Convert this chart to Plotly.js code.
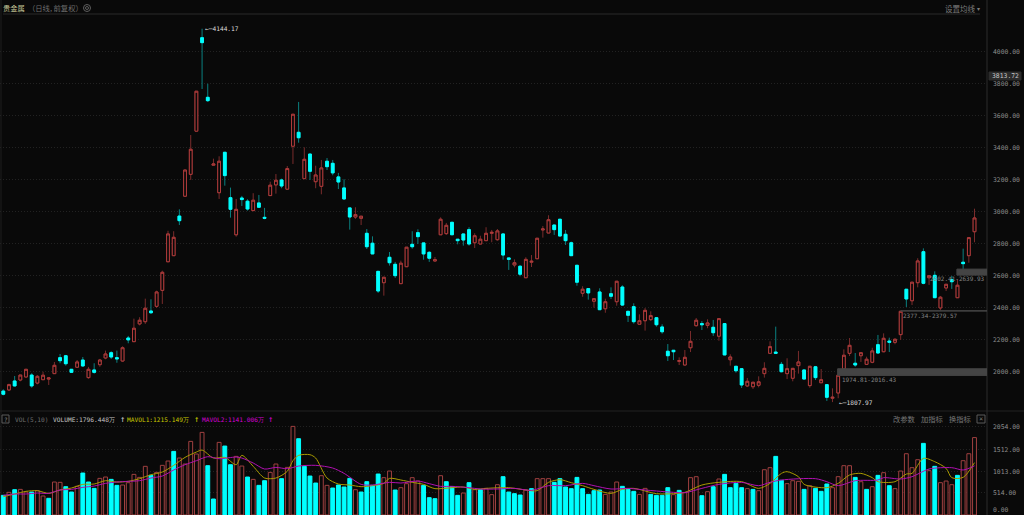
<!DOCTYPE html>
<html><head><meta charset="utf-8">
<script src="https://cdn.plot.ly/plotly-3.0.1.min.js"></script>
<style>html,body{margin:0;padding:0;background:#090909;overflow:hidden}#c{width:1024px;height:515px}</style>
</head><body><div id="c"></div>
<script>
const opens=[1877,1884,1940,1946,1965,1977,1927,1948,1952,1986,2086,2098,2013,2026,2071,1961,2009,2042,2084,2117,2086,2065,2209,2186,2297,2311,2378,2407,2507,2686,2724,2972,3096,3233,3503,4088,3715,3290,3118,3371,3087,2855,3085,3065,3006,3054,2964,3100,3167,3198,3140,3409,3496,3206,3360,3187,3158,3315,3302,3217,3148,3023,2966,2958,2864,2802,2626,2555,2714,2670,2549,2655,2795,2868,2804,2745,2691,2855,2862,2933,2827,2860,2887,2805,2797,2818,2864,2824,2860,2710,2666,2658,2586,2683,2705,2885,2866,2916,2952,2858,2805,2664,2489,2518,2439,2497,2392,2486,2436,2528,2376,2405,2295,2317,2324,2336,2278,2126,2132,2063,2040,2148,2286,2299,2288,2276,2220,2299,2073,2032,2017,1909,1904,1913,1986,2113,2121,2044,1986,1957,2036,2009,1911,2029,1929,1917,1832,1865,2015,2113,2051,2098,2044,2057,2167,2123,2190,2182,2230,2514,2442,2555,2749,2586,2601,2397,2522,2574,2461,2683,2724,2874];
const closes=[1857,1917,1909,1977,2013,1909,1969,1976,1959,2038,2067,2048,1994,2059,2034,2013,1994,2071,2109,2090,2078,2148,2197,2270,2320,2395,2367,2497,2620,2860,2839,2943,3260,3390,3753,4057,3694,3298,3315,3225,3014,3014,3075,3016,3071,3027,2958,3165,3196,3160,3269,3609,3462,3327,3252,3229,3273,3281,3242,3185,3079,2966,2981,2971,2780,2735,2503,2589,2680,2599,2677,2777,2780,2843,2735,2708,2699,2952,2914,2855,2818,2822,2797,2849,2827,2864,2870,2879,2728,2701,2680,2608,2701,2689,2833,2891,2949,2887,2847,2818,2724,2558,2514,2491,2455,2386,2436,2470,2564,2415,2351,2311,2317,2382,2349,2292,2248,2098,2123,2067,2088,2188,2320,2292,2303,2242,2330,2103,2090,2004,1915,1938,1932,1935,2019,2155,2113,1998,2017,2019,2059,1952,2032,1961,1948,1838,1838,1976,2101,2163,2040,2117,2076,2128,2115,2207,2182,2201,2376,2453,2558,2691,2551,2599,2461,2464,2545,2561,2539,2674,2837,2960];
const highs=[1888,1923,1971,1977,2013,1988,1977,1998,1959,2059,2109,2103,2015,2071,2090,2028,2051,2078,2130,2126,2130,2157,2222,2330,2339,2455,2451,2505,2630,2880,2877,3014,3260,3479,3753,4144.17,3800,3331,3346,3371,3150,3079,3098,3077,3115,3104,3023,3187,3235,3206,3285,3609,3686,3402,3360,3287,3323,3335,3323,3242,3202,3023,3027,2971,2891,2845,2626,2589,2747,2685,2693,2777,2877,2889,2804,2752,2716,2964,2929,2933,2827,2860,2902,2864,2849,2902,2885,2891,2864,2710,2701,2664,2714,2728,2833,2910,2977,2916,2952,2885,2812,2664,2533,2518,2455,2520,2455,2526,2564,2539,2376,2426,2357,2397,2376,2336,2295,2171,2132,2088,2134,2253,2334,2315,2326,2322,2330,2299,2107,2032,2021,1959,1932,1969,2057,2188,2280,2059,2082,2019,2128,2009,2032,2034,2015,1917,1894,1976,2138,2209,2115,2117,2092,2148,2228,2238,2211,2207,2376,2514,2558,2708,2770,2599,2626,2472,2545,2597,2576,2768,2837,3018];
const lows=[1850,1877,1906,1938,1962,1898,1919,1948,1915,1986,2051,2036,1990,2021,2029,1954,1986,2029,2076,2078,2054,2061,2176,2186,2288,2297,2359,2397,2422,2686,2724,2916,3091,3198,3503,3767,3686,3290,3079,3162,2962,2843,3035,3006,3006,3027,2952,3100,3112,3146,3140,3298,3431,3206,3198,3146,3108,3260,3227,3141,3073,2887,2954,2916,2766,2735,2491,2474,2662,2585,2549,2655,2768,2797,2699,2685,2686,2855,2854,2855,2795,2787,2787,2772,2797,2818,2808,2818,2699,2635,2651,2595,2586,2653,2705,2837,2866,2854,2847,2791,2724,2536,2467,2449,2399,2386,2367,2453,2411,2409,2309,2299,2295,2255,2315,2280,2236,2065,2071,2040,2040,2121,2280,2259,2270,2222,2192,2103,2036,1992,1896,1902,1890,1900,1961,2113,2113,1994,1952,1938,1986,1952,1898,1946,1929,1815,1807.97,1832,2015,2096,2029,2059,2040,2051,2111,2120,2121,2170,2197,2403,2415,2526,2545,2541,2461,2380,2503,2516,2461,2641,2680,2808];
const volumes=[456,526,587,595,533,533,564,441,387,765,758,657,533,665,974,765,618,850,881,827,688,696,750,943,873,1129,920,989,1152,1252,1476,1322,1183,1708,1415,1917,1144,371,1685,1600,1167,1360,1136,881,827,688,796,989,1183,843,1105,2056,1770,1129,904,742,912,688,626,696,649,850,587,533,773,688,951,866,1020,580,634,727,866,788,688,402,379,912,773,657,456,510,750,587,587,618,472,703,889,533,495,464,580,611,843,843,843,758,843,649,611,873,611,479,564,580,479,533,765,665,595,549,479,618,479,456,456,634,472,572,518,866,889,448,541,657,835,943,634,734,634,611,595,564,1051,1098,1360,804,727,796,781,595,680,618,549,719,634,889,1144,1144,873,773,595,657,920,982,680,611,1020,1422,1098,1283,1662,1028,1129,750,788,703,920,1260,1422,1796.448];
// 1 = hollow red bar, 0 = solid cyan bar
const volRed=[0,1,0,1,1,0,1,1,0,1,1,0,0,1,0,0,0,1,1,0,0,1,1,1,1,1,0,1,1,1,0,1,1,1,1,1,0,0,1,0,0,1,1,0,1,0,0,1,1,0,1,1,0,0,0,0,1,1,0,0,0,0,1,0,0,0,0,1,1,0,1,1,1,1,0,0,0,1,0,0,0,1,0,1,0,1,1,1,0,0,0,0,1,0,1,1,1,0,0,0,0,0,0,0,0,0,1,1,1,0,0,0,1,1,0,0,0,0,1,0,1,1,1,0,1,0,1,0,0,0,0,1,0,1,1,1,0,0,1,1,1,0,1,0,0,0,1,1,1,1,0,1,0,1,0,1,0,1,1,1,1,1,0,1,0,1,1,1,0,1,1,1];
const ma1X=[0,2,4,6,8,10,12,14,16,18,20,22,24,26,28,30,32,34,35,37,39,41,42,44,46,48,50,51,52,54,55,57,59,61,63,65,67,68,70,72,74,76,79,81,83,85,89,92,94,96,98,100,102,104,107,109,111,115,118,120,123,126,130,133,135,137,138,140,141,145,147,149,151,153,154,157,159,160,162,164,166,167,169,171];
const ma1Y=[425,487,549,564,502,580,626,711,719,796,765,781,843,935,997,1152,1337,1461,1507,1322,1337,1167,1384,1129,858,858,1013,1260,1384,1399,1322,858,719,696,657,680,734,850,812,758,711,611,634,649,595,618,634,580,564,758,819,750,680,595,502,595,618,495,495,526,696,758,773,618,734,966,1005,889,711,634,734,928,966,866,773,773,951,966,1314,1237,1082,866,873,1215.149];
const ma2X=[0,2,4,6,8,10,12,14,16,18,20,22,24,26,28,30,32,34,36,38,41,42,44,46,48,50,52,55,58,60,63,65,68,70,73,75,77,79,82,84,87,90,93,96,99,102,104,107,110,113,115,118,120,123,126,130,133,135,137,143,145,147,150,154,155,158,160,163,167,169,171];
const ma2Y=[456,487,487,510,502,580,595,641,672,734,765,781,796,858,904,1044,1167,1260,1353,1306,1345,1322,1206,1067,1105,1074,1136,1152,1090,966,711,696,758,742,788,727,665,665,634,603,603,618,572,680,680,734,680,603,618,580,557,526,518,618,711,758,680,758,812,843,773,680,796,812,866,835,889,1067,1098,1044,1141.006];
const priceTicks=[2000,2200,2400,2600,2800,3000,3200,3400,3600,3800,4000];
const volTicks=[514,1013,1512,2054];
const RED='#b23c3c', RED_WICK='#7a2c2c', CYAN='#00ffff', CYAN_WICK='#0a8080', BG='#090909';
const MONO='"DejaVu Sans Mono", monospace', CJK='"Noto Sans CJK SC", sans-serif';
const idx=opens.map((_,i)=>i);
const bodyHi=opens.map((o,i)=>Math.max(o,closes[i])), bodyLo=opens.map((o,i)=>Math.min(o,closes[i]));
const W=1024,H=515, px=x=>x/W, py=y=>1-y/H;
const candle=(hi,lo,rc,cc,w)=>({type:'candlestick',x:idx,open:opens,close:closes,high:hi,low:lo,xaxis:'x',yaxis:'y',
  width:0.72,whiskerwidth:0,hoverinfo:'skip',showlegend:false,
  increasing:{line:{color:rc,width:w},fillcolor:BG},decreasing:{line:{color:cc,width:w},fillcolor:CYAN}});
const traces=[
  candle(highs,lows,RED_WICK,CYAN_WICK,1),
  candle(bodyHi,bodyLo,RED,CYAN,1),
  {type:'bar',x:idx,y:volumes,xaxis:'x',yaxis:'y2',width:0.68,hoverinfo:'skip',showlegend:false,
    marker:{color:volRed.map(r=>r?BG:CYAN),line:{color:volRed.map(r=>r?'#a04040':CYAN),width:1}}},
  {type:'scatter',mode:'lines',x:ma1X,y:ma1Y,xaxis:'x',yaxis:'y2',line:{color:'#a89a00',width:1,shape:'spline',smoothing:0.8},hoverinfo:'skip',showlegend:false},
  {type:'scatter',mode:'lines',x:ma2X,y:ma2Y,xaxis:'x',yaxis:'y2',line:{color:'#b010b0',width:1,shape:'spline',smoothing:0.8},hoverinfo:'skip',showlegend:false}
];
const txt=(x,y,text,color,size,font,anchor)=>({xref:'paper',yref:'paper',x:px(x),y:py(y),text,showarrow:false,xanchor:anchor||'left',yanchor:'middle',
  font:{color,size,family:font||MONO},borderpad:0,borderwidth:0});
const line=(x0,y0,x1,y1,c)=>({type:'line',xref:'paper',yref:'paper',x0:px(x0),y0:py(y0),x1:px(x1),y1:py(y1),line:{color:c,width:1},layer:'below'});
const box=(x0,y0,x1,y1,c,f)=>({type:'rect',xref:'paper',yref:'paper',x0:px(x0),y0:py(y0),x1:px(x1),y1:py(y1),line:{color:c,width:1},fillcolor:f||'rgba(0,0,0,0)'});
const ell=(cx,cy,r,c)=>({type:'circle',xref:'paper',yref:'paper',x0:px(cx-r),y0:py(cy+r),x1:px(cx+r),y1:py(cy-r),line:{color:c,width:1}});
const band=(x0,p0,p1)=>({type:'rect',xref:'x',yref:'y',x0,x1:173.2,y0:p0,y1:p1,line:{color:'#444444',width:1},fillcolor:'#444444',layer:'above'});
const layout={
  width:W,height:H,margin:{l:0,r:0,t:0,b:0},paper_bgcolor:BG,plot_bgcolor:BG,showlegend:false,
  xaxis:{domain:[0,987/W],range:[-0.58,173.2],showgrid:false,zeroline:false,showticklabels:false,ticks:'',rangeslider:{visible:false},fixedrange:true},
  yaxis:{domain:[py(410),py(15)],range:[1758.4,4230],side:'right',tickmode:'array',tickvals:priceTicks,ticktext:priceTicks.map(v=>v.toFixed(2)),
    ticks:'',ticklabelstandoff:5,gridcolor:'#222222',griddash:'1px,2px',gridwidth:1,zeroline:false,tickfont:{family:MONO,size:6.4,color:'#8c8c8c'},fixedrange:true},
  yaxis2:{domain:[0,py(412)],range:[0,2390],side:'right',anchor:'x',tickmode:'array',tickvals:volTicks,ticktext:volTicks.map(v=>v.toFixed(2)),
    ticks:'',ticklabelstandoff:5,gridcolor:'#222222',griddash:'1px,2px',gridwidth:1,zeroline:false,tickfont:{family:MONO,size:6.4,color:'#8c8c8c'},fixedrange:true},
  shapes:[
    line(1,0,1,515,'#1f1f1f'),line(3,14,980,14,'#2a2a2a'),line(0,411,1024,411,'#222222'),line(987,0,987,515,'#2c2c2c'),
    band(146.9,1974.81,2016.43),band(158,2377.34,2379.57),band(167.9,2602.41,2639.93),
    box(989,72,1021,80,'#2c2c2c','#2c2c2c'),
    ell(87,8,3.5,'#5e5e5e'),ell(87,8,1.5,'#5e5e5e'),
    box(2,415,9,423,'#5a5a5a'),box(977,415,985,423,'#5a5a5a')
  ],
  annotations:[
    txt(3,8,'贵金属','#c8c89a',7.3,CJK),
    txt(28,8,'（日线, 前复权）','#6e6e6e',7.3,CJK),
    txt(945,8,'设置均线','#7c7c7c',7.5,CJK),
    txt(977,8,'▾','#7c7c7c',6,CJK),
    txt(992,76,'3813.72','#c8c8c8',6.4),
    txt(993,509.5,'0.00','#8c8c8c',6.4),
    {xref:'x',yref:'y',x:35,y:4144.17,text:'←─4144.17',showarrow:false,xanchor:'left',yanchor:'middle',xshift:1,font:{family:MONO,size:6.2,color:'#dddddd'}},
    {xref:'x',yref:'y',x:146,y:1807.97,text:'←─1807.97',showarrow:false,xanchor:'left',yanchor:'middle',xshift:4,font:{family:MONO,size:6.2,color:'#dddddd'}},
    txt(841.7,379,'1974.81-2016.43','#858585',6),
    txt(902.7,315.7,'2377.34-2379.57','#858585',6),
    txt(985,278.7,'2602.41-2639.93','#858585',6,MONO,'right'),
    txt(5.5,419,'?','#8a8a8a',6,MONO,'center'),
    txt(15,419,'VOL(5,10)','#6e6e6e',6.2),
    txt(53,419,'VOLUME:1796.448万','#c4c4c4',6.2),
    txt(120,419,'↑','#c4c4c4',9),
    txt(127,419,'MAVOL1:1215.149万','#c8c800',6.2),
    txt(194,419,'↑','#c8c800',9),
    txt(202,419,'MAVOL2:1141.006万','#d400d4',6.2),
    txt(268,419,'↑','#d400d4',9),
    txt(893,419,'改参数','#777777',7.3,CJK),
    txt(921,419,'加指标','#777777',7.3,CJK),
    txt(949,419,'换指标','#777777',7.3,CJK),
    txt(981,419,'×','#777777',7,MONO,'center')
  ]
};
Plotly.newPlot('c',traces,layout,{displayModeBar:false,staticPlot:true});
</script></body></html>
